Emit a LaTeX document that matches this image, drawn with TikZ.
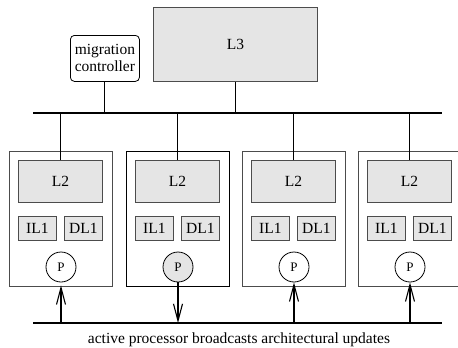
\documentclass[tikz,border=0pt]{standalone}
\usepackage{fontspec}
\setmainfont{Liberation Serif}
\usetikzlibrary{arrows.meta}
\definecolor{boxgray}{gray}{0.9}
\definecolor{edgegray}{gray}{0.3}
\begin{document}
\begin{tikzpicture}[x=1pt,y=-1pt,
  font=\fontsize{15.5}{17}\selectfont,
  grayblock/.style={draw=edgegray, fill=boxgray, line width=0.8pt, inner sep=0pt, anchor=north west},
  procbox/.style={draw=edgegray, line width=0.8pt, inner sep=0pt, anchor=north west, minimum width=103pt, minimum height=135pt},
  activebox/.style={procbox, draw=black, line width=1.4pt},
  pcircle/.style={circle, draw=black, line width=0.8pt, minimum size=30pt, inner sep=0pt, font=\fontsize{13}{15}\selectfont},
  bus/.style={line width=1.3pt},
  link/.style={line width=1.1pt},
  bcast/.style={line width=1.1pt, -{Straight Barb[length=17pt,width=9pt]}},
]
\useasboundingbox (0,0) rectangle (458,348);

% top level
\node[grayblock, minimum width=164pt, minimum height=74pt] (l3) at (153,7) {L3};
\node[draw=black, rounded corners=4pt, line width=0.8pt, inner sep=0pt,
      minimum width=69pt, minimum height=46pt, anchor=north west, align=center] (mc) at (70,35) {migration\\controller};

% buses
\coordinate (busTL) at (33,113);
\coordinate (busTR) at (442,113);
\coordinate (busBL) at (33,323);
\coordinate (busBR) at (442,323);
\draw[bus] (busTL) -- (busTR);
\draw[bus] (busBL) -- (busBR);
\draw[link] (mc.south) -- (mc.south |- busTL);
\draw[link] (l3.south) -- (l3.south |- busTL);

% processor tiles
\foreach \i/\bx in {1/9,2/126,3/242,4/358}{
  \ifnum\i=2
    \node[activebox] (pb\i) at (\bx,151) {};
  \else
    \ifnum\i=4
      \node[procbox, draw=none, minimum width=100pt] (pb\i) at (\bx,151) {};
      \draw[edgegray, line width=0.8pt] (pb\i.north east) -- (pb\i.north west)
        -- (pb\i.south west) -- (pb\i.south east);
    \else
      \node[procbox] (pb\i) at (\bx,151) {};
    \fi
  \fi
  \node[grayblock, minimum width=84pt, minimum height=42pt] (l2\i) at ({\bx+9},160) {L2};
  \node[grayblock, minimum width=38pt, minimum height=24pt] (il\i) at ({\bx+9},216) {IL1};
  \node[grayblock, minimum width=38pt, minimum height=24pt] (dl\i) at ({\bx+55},216) {DL1};
  \ifnum\i=2
    \node[pcircle, fill=boxgray] (p\i) at ({\bx+52},267) {P};
  \else
    \node[pcircle, fill=white] (p\i) at ({\bx+52},267) {P};
  \fi
  \draw[link] (l2\i.north) -- (l2\i.north |- busTL);
}

% broadcast arrows
\draw[bcast] (p1.south |- busBL) -- ([yshift=-3pt]p1.south);
\draw[bcast] (p2.south) -- (p2.south |- busBL);
\draw[bcast] (p3.south |- busBL) -- (p3.south);
\draw[bcast] (p4.south |- busBL) -- (p4.south);

\node[anchor=base] (cap) at (239,343) {active processor broadcasts architectural updates};
\end{tikzpicture}
\end{document}
